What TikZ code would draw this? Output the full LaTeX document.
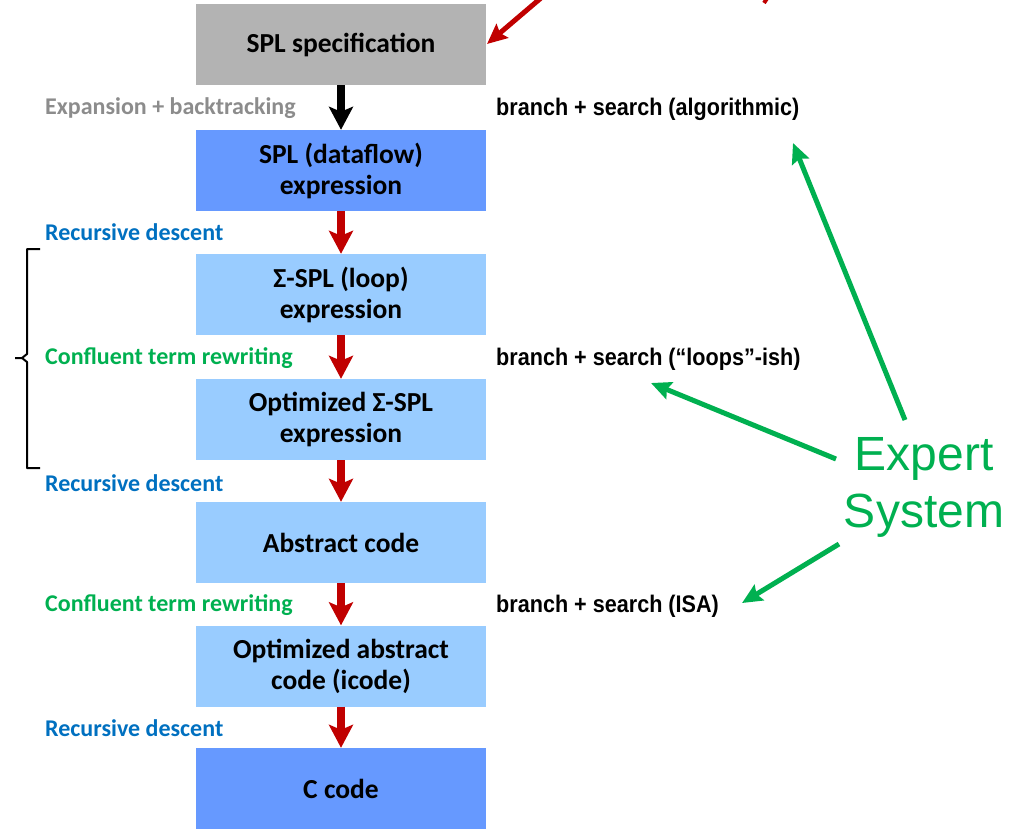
\documentclass[tikz,border=0pt]{standalone}
\usepackage{fontspec}
\setmainfont{Carlito}
\newfontfamily\arialb[FakeStretch=0.9]{Liberation Sans Bold}
\newfontfamily\arial{Liberation Sans}
\usetikzlibrary{arrows.meta}
\definecolor{boxgray}{RGB}{179,179,179}
\definecolor{boxdark}{RGB}{102,153,255}
\definecolor{boxlight}{RGB}{153,204,255}
\definecolor{arrred}{RGB}{192,0,0}
\definecolor{txtgreen}{RGB}{0,176,80}
\definecolor{txtblue}{RGB}{0,112,192}
\definecolor{txtgray}{RGB}{140,140,140}
\tikzset{
  stage/.style={minimum width=290pt, minimum height=81pt, inner sep=0pt, align=center,
    font=\fontsize{27.5}{31}\selectfont\bfseries},
  flowarrow/.style={draw=arrred, line width=8pt, -{Stealth[length=23pt,width=24pt,inset=5pt]}, shorten >=0pt},
  blackarrow/.style={flowarrow, draw=black},
  steplabel/.style={anchor=west, inner sep=0pt, font=\fontsize{24}{26}\selectfont\bfseries},
  searchlabel/.style={anchor=west, inner sep=0pt, font=\fontsize{24}{28}\selectfont\arialb},
  expertarrow/.style={draw=txtgreen, line width=5pt, -{Stealth[length=20pt,width=18pt,inset=3pt]}},
  redarrow/.style={draw=arrred, line width=5pt, -{Stealth[length=20pt,width=18pt,inset=3pt]}}
}
\begin{document}
\begin{tikzpicture}[x=1pt,y=-1pt]
\useasboundingbox (0,0) rectangle (1009,830);
% stages
\node[stage, fill=boxgray]  (spec) at (341,44.5) {SPL specification};
\node[stage, fill=boxdark]  (dflow) at (341,170.5) {SPL (dataflow)\\expression};
\node[stage, fill=boxlight] (sigma) at (341,294.5) {Σ-SPL (loop)\\expression};
\node[stage, fill=boxlight] (osigma) at (341,419.5) {Optimized Σ-SPL\\expression};
\node[stage, fill=boxlight] (abs) at (341,542.5) {Abstract code};
\node[stage, fill=boxlight] (icode) at (341,666) {Optimized abstract\\code (icode)};
\node[stage, fill=boxdark]  (ccode) at (341,788.5) {C code};
% flow arrows
\draw[blackarrow] (spec.south) -- (dflow.north);
\draw[flowarrow] (dflow.south) -- (sigma.north);
\draw[flowarrow] (sigma.south) -- (osigma.north);
\draw[flowarrow] (osigma.south) -- (abs.north);
\draw[flowarrow] (abs.south) -- (icode.north);
\draw[flowarrow] (icode.south) -- (ccode.north);
% left labels
\node[steplabel, text=txtgray]  (l1) at (45,108) {Expansion + backtracking};
\node[steplabel, text=txtblue]  (l2) at (45,232) {Recursive descent};
\node[steplabel, text=txtgreen] (l3) at (45,358) {Confluent term rewriting};
\node[steplabel, text=txtblue]  (l4) at (45,483) {Recursive descent};
\node[steplabel, text=txtgreen] (l5) at (45,605) {Confluent term rewriting};
\node[steplabel, text=txtblue]  (l6) at (45,728) {Recursive descent};
% brace
\draw[line width=2pt, line join=round] (40,249) -- (27,249) -- (27,354) -- (22,358) -- (15,358);
\draw[line width=2pt, line join=round] (22,358) -- (27,362) -- (27,468) -- (40,468);
% right labels
\node[searchlabel] (s1) at (496,109) {branch + search (algorithmic)};
\node[searchlabel] (s2) at (496,359) {branch + search (“loops”-ish)};
\node[searchlabel] (s3) at (496,606) {branch + search (ISA)};
% expert system
\node[align=center, text=txtgreen, inner sep=0pt, font=\fontsize{48}{57}\selectfont\arial] (expert) at (924,487) {Expert\\System};
\coordinate (g1s) at (905,420);
\coordinate (g1e) at (793,143);
\coordinate (g2s) at (836,459);
\coordinate (g2e) at (651,383);
\coordinate (g3s) at (839,544);
\coordinate (g3e) at (742,603);
\draw[expertarrow] (g1s) -- (g1e);
\draw[expertarrow] (g2s) -- (g2e);
\draw[expertarrow] (g3s) -- (g3e);
% red arrow from above
\coordinate (r1s) at (548,-8);
\coordinate (r1e) at (487,44);
\draw[redarrow] (r1s) -- (r1e);
\coordinate (r2s) at (770,-6);
\coordinate (r2e) at (764,3);
\draw[draw=arrred, line width=4pt] (r2s) -- (r2e);
\end{tikzpicture}
\end{document}
